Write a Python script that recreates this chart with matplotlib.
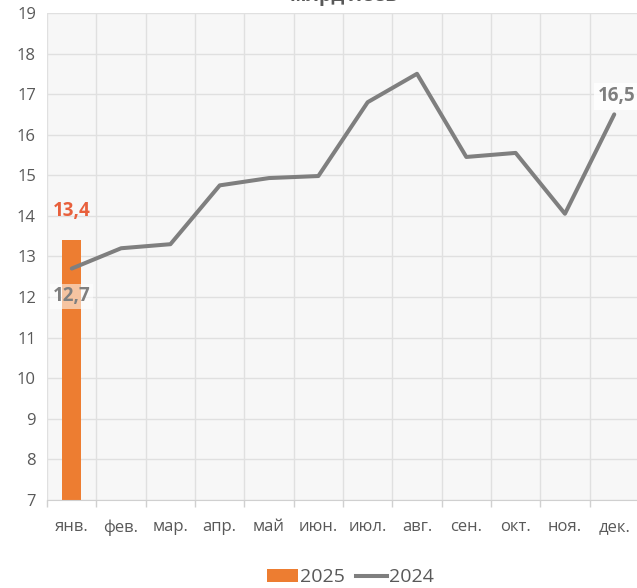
import matplotlib.pyplot as plt
import numpy as np
from matplotlib.lines import Line2D
from matplotlib.patches import Patch

plt.rcParams['font.family'] = ['Open Sans', 'DejaVu Sans']

months = ['янв.', 'фев.', 'мар.', 'апр.', 'май', 'июн.', 'июл.', 'авг.', 'сен.', 'окт.', 'ноя.', 'дек.']
values_2024 = [12.7, 13.2, 13.3, 14.75, 14.93, 14.98, 16.8, 17.5, 15.45, 15.55, 14.05, 16.5]
values_2025 = [13.4]
y_ticks = list(range(7, 20))

orange = '#ed7d31'
grey = '#7f7f7f'
text_grey = '#595959'

fig = plt.figure(figsize=(6.37, 5.88), dpi=100)
ax = fig.add_axes([0.074, 0.150, 0.929, 0.828])
ax.set_facecolor('#f7f7f7')

x = np.arange(len(months))
ax.bar(x[:len(values_2025)], values_2025, width=0.38, color=orange, zorder=2)
ax.plot(x, values_2024, color=grey, linewidth=2.9, solid_capstyle='round',
        solid_joinstyle='round', zorder=3)

ax.set_ylim(7, 19)
ax.set_xlim(-0.5, len(months) - 0.5)
ax.set_yticks(y_ticks)
ax.set_xticks(x)
ax.set_xticklabels(months)
ax.set_xticks(np.arange(-0.5, len(months)), minor=True)
ax.grid(True, which='major', axis='y', color='#e0e0e0', linewidth=1)
ax.grid(True, which='minor', axis='x', color='#e0e0e0', linewidth=1)
ax.set_axisbelow(True)
ax.tick_params(axis='both', which='major', length=0, labelsize=12,
               colors=text_grey, pad=8)
ax.tick_params(axis='x', which='minor', length=5, color='#d0d0d0', width=1)
ax.tick_params(axis='x', which='major', pad=14)
for side in ['top', 'right', 'left']:
    ax.spines[side].set_visible(False)
ax.spines['bottom'].set_color('#d0d0d0')

# data labels
ax.annotate(f'{values_2025[0]:.1f}'.replace('.', ','), (x[0], values_2025[0]),
            xytext=(0, 21), textcoords='offset points', ha='center', va='center',
            fontsize=13.5, fontweight='bold', color='#e8603c', zorder=4)
box = dict(boxstyle='square,pad=0.15', facecolor='white', edgecolor='none', alpha=0.55)
ax.annotate(f'{values_2024[0]:.1f}'.replace('.', ','), (x[0], values_2024[0]),
            xytext=(0, -20), textcoords='offset points', ha='center', va='center',
            fontsize=13.5, fontweight='bold', color=grey, bbox=box, zorder=4)
ax.annotate(f'{values_2024[-1]:.1f}'.replace('.', ','), (x[-1], values_2024[-1]),
            xytext=(2, 13), textcoords='offset points', ha='center', va='center',
            fontsize=13.5, fontweight='bold', color=grey,
            bbox=dict(boxstyle='square,pad=0.2', facecolor='white', edgecolor='none', alpha=0.8),
            zorder=4)

fig.text(0.54, 1.007, 'млрд леев', ha='center', va='center', fontsize=14,
         fontweight='bold', color=text_grey)

handles = [Patch(facecolor=orange, edgecolor='none'),
           Line2D([0], [0], color=grey, linewidth=2.9)]
fig.legend(handles, ['2025', '2024'], loc='center', bbox_to_anchor=(0.55, 0.018),
           ncol=2, frameon=False, fontsize=14, handlelength=1.6, handletextpad=0.1,
           columnspacing=0.6, labelcolor=text_grey)

fig.savefig('out.png', dpi=100)
